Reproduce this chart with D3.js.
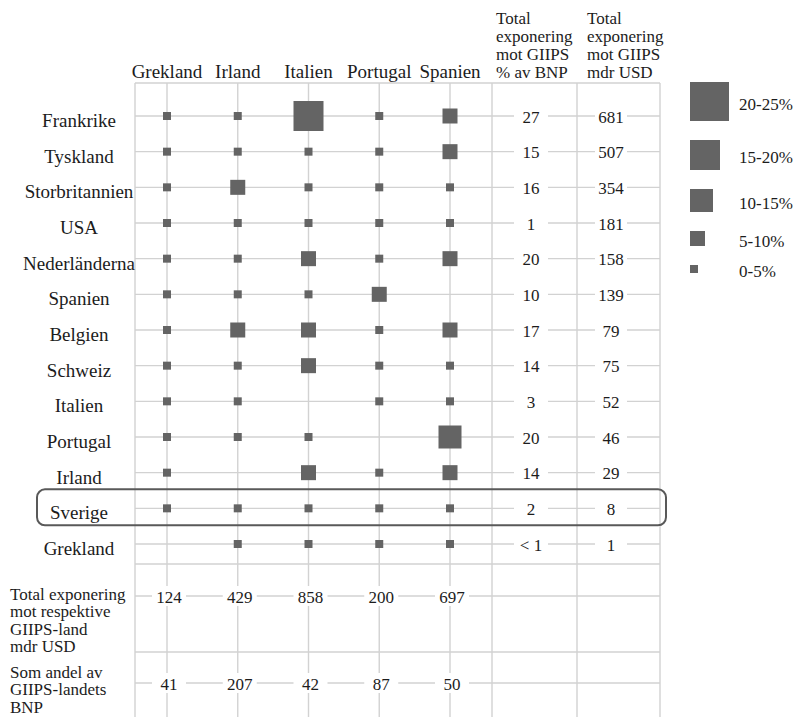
<!DOCTYPE html>
<html>
<head>
<meta charset="utf-8">
<script src="https://cdn.jsdelivr.net/npm/d3@7"></script>
<style>
  html, body { margin: 0; padding: 0; background: #fff; }
  svg { display: block; font-family: "Liberation Serif", "Times New Roman", serif; }
</style>
</head>
<body>
<svg id="chart" width="797" height="717"></svg>
<script>
// Lending countries (rows) and GIIPS borrower countries (columns)
const lenders = ["Frankrike", "Tyskland", "Storbritannien", "USA", "Nederländerna", "Spanien",
                 "Belgien", "Schweiz", "Italien", "Portugal", "Irland", "Sverige", "Grekland"];
const giips = ["Grekland", "Irland", "Italien", "Portugal", "Spanien"];

// Exposure to each GIIPS country as % of the lender's GDP (null = own country)
const expGrekland = [2, 2, 2, 2, 2, 2, 2, 2, 2, 2, 2, 2, null];
const expIrland   = [2, 2, 7, 2, 2, 2, 7, 2, 2, 2, null, 2, 2];
const expItalien  = [17, 2, 2, 2, 7, 2, 7, 7, null, 2, 7, 2, 2];
const expPortugal = [2, 2, 2, 2, 2, 7, 2, 2, 2, null, 2, 2, 2];
const expSpanien  = [7, 7, 2, 2, 7, null, 7, 2, 2, 12, 7, 2, 2];
const exposureByColumn = [expGrekland, expIrland, expItalien, expPortugal, expSpanien];

// Total GIIPS exposure per lender
const totalPctGdp = ["27", "15", "16", "1", "20", "10", "17", "14", "3", "20", "14", "2", "< 1"];
const totalUsdBn  = [681, 507, 354, 181, 158, 139, 79, 75, 52, 46, 29, 8, 1];

// Totals per GIIPS country
const totalPerCountryUsd = [124, 429, 858, 200, 697];
const shareOfCountryGdp  = [41, 207, 42, 87, 50];

// Legend bins
const legendLabels = ["20-25%", "15-20%", "10-15%", "5-10%", "0-5%"];
const legendValues = [22.5, 17.5, 12.5, 7.5, 2.5];

const W = 797, H = 717;
const gridLeft = 135, gridTop = 83, gridRight = 660;
const colPct = 492, colUsd = 577;
const totalsY = 596, sharesY = 683, sep1Y = 564, sep2Y = 652;
const gridColor = "#d2d2d2", squareColor = "#646464", textColor = "#1c1c1c";

const svg = d3.select("#chart");

const x = d3.scalePoint().domain(giips).range([167, 450]);
const y = d3.scalePoint().domain(lenders).range([116, 544]);
const side = d3.scaleThreshold().domain([5, 10, 15, 20]).range([8, 15, 23, 30, 39]);

const grid = svg.append("g").attr("stroke", gridColor).attr("stroke-width", 1.4);

// Horizontal lines: top border, lender rows, separators, bottom rows
const hLines = [gridTop, ...lenders.map(d => y(d)), sep1Y, totalsY, sep2Y, sharesY];
grid.selectAll("line.h").data(hLines).join("line")
  .attr("class", "h")
  .attr("x1", gridLeft).attr("x2", gridRight)
  .attr("y1", d => d).attr("y2", d => d);

// Vertical lines: left border, GIIPS columns, table columns, right border
const vLines = [gridLeft, ...giips.map(d => x(d)), colPct, colUsd, gridRight];
grid.selectAll("line.v").data(vLines).join("line")
  .attr("class", "v")
  .attr("x1", d => d).attr("x2", d => d)
  .attr("y1", gridTop).attr("y2", H);

// Column headers
svg.append("g").selectAll("text").data(giips).join("text")
  .attr("x", d => x(d)).attr("y", 78)
  .attr("text-anchor", "middle")
  .attr("font-size", 19).attr("fill", textColor)
  .text(d => d);

// Table headers
const headPct = ["Total", "exponering", "mot GIIPS", "% av BNP"];
const headUsd = ["Total", "exponering", "mot GIIPS", "mdr USD"];
[[headPct, colPct + 4], [headUsd, colUsd + 10]].forEach(([lines, hx]) => {
  svg.append("text").attr("font-size", 17).attr("fill", textColor)
    .selectAll("tspan").data(lines).join("tspan")
    .attr("x", hx).attr("y", (d, i) => 24 + i * 18)
    .text(d => d);
});

// Row labels
svg.append("g").selectAll("text").data(lenders).join("text")
  .attr("x", 79).attr("y", d => y(d) + 11)
  .attr("text-anchor", "middle")
  .attr("font-size", 19).attr("fill", textColor)
  .text(d => d);

// Table values with white backing that breaks the row lines
function cellLabel(g, cx, cy, txt, w) {
  g.append("rect").attr("x", cx - w / 2).attr("y", cy - 10).attr("width", w).attr("height", 20).attr("fill", "#fff");
  g.append("text").attr("x", cx).attr("y", cy + 6.5)
    .attr("text-anchor", "middle").attr("font-size", 17).attr("fill", textColor).text(txt);
}
const vals = svg.append("g");
lenders.forEach((d, i) => {
  cellLabel(vals, 531, y(d), totalPctGdp[i], 34);
  cellLabel(vals, 611, y(d), totalUsdBn[i], 32);
});
giips.forEach((c, i) => {
  cellLabel(vals, x(c) + 2, totalsY, totalPerCountryUsd[i], 34);
  cellLabel(vals, x(c) + 2, sharesY, shareOfCountryGdp[i], 34);
});

// Bottom row labels
const bottomLabels = [
  [["Total exponering", "mot respektive", "GIIPS-land", "mdr USD"], 600],
  [["Som andel av", "GIIPS-landets", "BNP"], 678]
];
bottomLabels.forEach(([lines, by]) => {
  svg.append("text").attr("font-size", 17).attr("fill", textColor)
    .selectAll("tspan").data(lines).join("tspan")
    .attr("x", 10).attr("y", (d, i) => by + i * 17.4)
    .text(d => d);
});

// Exposure squares
const cells = [];
giips.forEach((c, ci) => {
  exposureByColumn[ci].forEach((v, ri) => {
    if (v != null) cells.push({ col: c, row: lenders[ri], value: v });
  });
});
svg.append("g").selectAll("rect").data(cells).join("rect")
  .attr("x", d => x(d.col) - side(d.value) / 2)
  .attr("y", d => y(d.row) - side(d.value) / 2)
  .attr("width", d => side(d.value))
  .attr("height", d => side(d.value))
  .attr("fill", squareColor);

// Highlight Sverige
svg.append("rect")
  .attr("x", 37).attr("y", y("Sverige") - 19)
  .attr("width", 629).attr("height", 36)
  .attr("rx", 8)
  .attr("fill", "none").attr("stroke", "#595959").attr("stroke-width", 2);

// Legend
const legend = svg.append("g");
let legendTop = 82;
legendValues.forEach((v, i) => {
  const s = side(v);
  legend.append("rect").attr("x", 690).attr("y", legendTop).attr("width", s).attr("height", s).attr("fill", squareColor);
  legend.append("text").attr("x", 739).attr("y", legendTop + s / 2 + 8)
    .attr("font-size", 17).attr("fill", textColor).text(legendLabels[i]);
  legendTop += s + 19;
});
</script>
</body>
</html>
